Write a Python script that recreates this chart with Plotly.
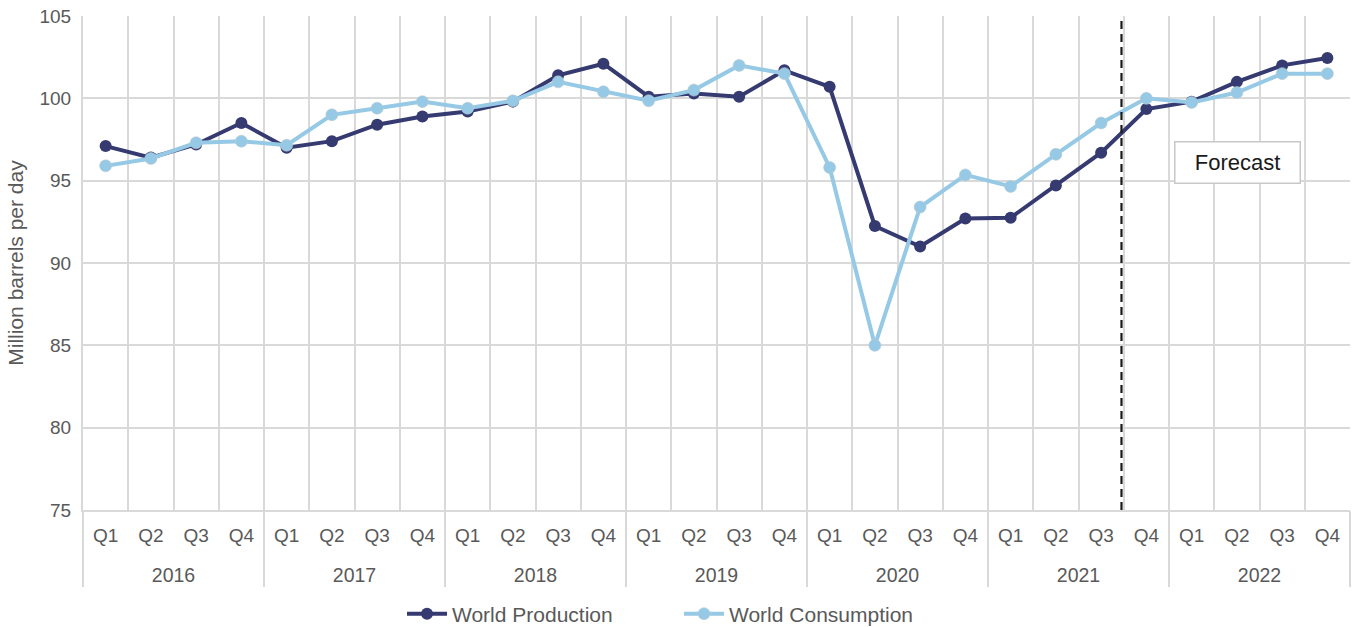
import plotly.graph_objects as go

years = ["2016", "2017", "2018", "2019", "2020", "2021", "2022"]
quarters = ["Q1", "Q2", "Q3", "Q4"]

production = [
    97.1, 96.4, 97.2, 98.5,
    97.0, 97.4, 98.4, 98.9,
    99.2, 99.8, 101.4, 102.1,
    100.1, 100.3, 100.1, 101.7,
    100.7, 92.25, 91.0, 92.7,
    92.75, 94.7, 96.7, 99.35,
    99.8, 101.0, 102.0, 102.45,
]
consumption = [
    95.9, 96.35, 97.3, 97.4,
    97.15, 99.0, 99.4, 99.8,
    99.4, 99.85, 101.0, 100.4,
    99.85, 100.5, 102.0, 101.5,
    95.8, 85.0, 93.4, 95.35,
    94.65, 96.6, 98.5, 100.0,
    99.75, 100.35, 101.5, 101.5,
]

forecast_start = ("2021", "Q4")

# one slot per quarter along a linear x axis
n_q = len(quarters)
idx = list(range(len(years) * n_q))
q_text = [q for _ in years for q in quarters]
year_centers = [i * n_q + (n_q - 1) / 2 for i in range(len(years))]
year_bounds = [i * n_q - 0.5 for i in range(len(years) + 1)]
quarter_bounds = [i - 0.5 for i in idx]
forecast_x = years.index(forecast_start[0]) * n_q + quarters.index(forecast_start[1]) - 0.55

PROD_COLOR = "#353a70"
CONS_COLOR = "#95c9e5"
GRID = "#d9d9d9"
TEXT = "#595959"
FONT = "Liberation Sans, Arial, sans-serif"

fig = go.Figure()
fig.add_trace(go.Scatter(
    x=idx, y=production, name="World Production",
    mode="lines+markers",
    line=dict(color=PROD_COLOR, width=4),
    marker=dict(color=PROD_COLOR, size=12),
))
fig.add_trace(go.Scatter(
    x=idx, y=consumption, name="World Consumption",
    mode="lines+markers",
    line=dict(color=CONS_COLOR, width=4),
    marker=dict(color=CONS_COLOR, size=12, line=dict(color="#b9c9d2", width=0.6)),
))
# invisible trace that carries the year axis
fig.add_trace(go.Scatter(
    x=[idx[0], idx[-1]], y=[None, None], xaxis="x2", showlegend=False,
    hoverinfo="skip", mode="lines",
))

fig.add_shape(type="line", xref="x", yref="paper", x0=forecast_x, x1=forecast_x, y0=0, y1=1,
              line=dict(color="#1a1a1a", width=2.2, dash="8px,5px"), layer="above")

fig.add_annotation(
    text="Forecast", xref="paper", yref="paper",
    x=(1237.5 - 83) / 1267, y=(510 - 162.5) / 494,
    xanchor="center", yanchor="middle", showarrow=False,
    font=dict(family=FONT, size=22, color="#1a1a1a"),
    bordercolor="#c8c8c8", borderwidth=1.5, borderpad=8, bgcolor="white",
    width=108, height=24,
)

x_range = [-0.5, idx[-1] + 0.5]

fig.update_layout(
    width=1359, height=627,
    margin=dict(l=83, r=9, t=16, b=117, autoexpand=False),
    paper_bgcolor="white", plot_bgcolor="white",
    font=dict(family=FONT, color=TEXT, size=19),
    showlegend=True,
    legend=dict(
        orientation="h", x=(402 - 83) / 1267, xanchor="left",
        y=-(614 - 510) / 494, yanchor="middle",
        font=dict(family=FONT, size=21, color=TEXT),
        itemwidth=40,
        entrywidth=222, entrywidthmode="pixels",
    ),
    xaxis=dict(
        range=x_range, tickmode="array", tickvals=idx, ticktext=q_text,
        showgrid=False, zeroline=False, ticks="",
        showline=True, linecolor=GRID, linewidth=2,
        tickfont=dict(family=FONT, size=19, color=TEXT),
        ticklabelstandoff=7,
        minor=dict(tickvals=quarter_bounds[1:], showgrid=True, gridcolor=GRID, gridwidth=2, ticks=""),
        automargin=False,
    ),
    xaxis2=dict(
        range=x_range, overlaying="x", anchor="y", side="bottom",
        tickmode="array", tickvals=year_centers, ticktext=years,
        showgrid=False, zeroline=False, ticks="", showline=False,
        tickfont=dict(family=FONT, size=19.5, color=TEXT),
        ticklabelstandoff=51,
        minor=dict(tickvals=year_bounds, ticks="outside", ticklen=76, tickwidth=2,
                   tickcolor=GRID, showgrid=False),
        automargin=False,
    ),
    yaxis=dict(
        range=[75, 105], dtick=5,
        showgrid=True, gridcolor=GRID, gridwidth=2,
        showline=True, linecolor=GRID, linewidth=2,
        zeroline=False, ticks="",
        tickfont=dict(family=FONT, size=19, color=TEXT),
        ticklabelstandoff=6,
        title=dict(text="Million barrels per day", font=dict(family=FONT, size=21, color=TEXT), standoff=10),
        automargin=False,
    ),
)

fig.write_html("out.html")
